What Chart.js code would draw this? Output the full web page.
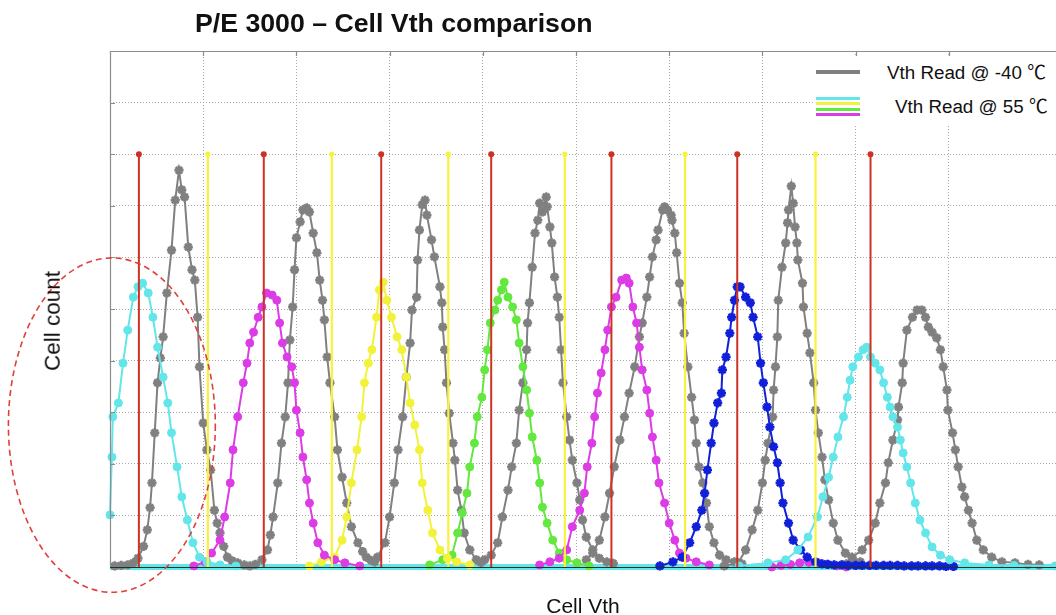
<!DOCTYPE html>
<html>
<head>
<meta charset="utf-8">
<script src="https://cdn.jsdelivr.net/npm/chart.js@4.4.1/dist/chart.umd.min.js"></script>
<style>
  html,body{margin:0;padding:0;background:#fff;overflow:hidden;}
  #wrap{position:relative;width:1056px;height:615px;}
  canvas{position:absolute;left:0;top:0;}
  .t{position:absolute;font-family:"Liberation Sans",Arial,"Noto Sans CJK SC",sans-serif;color:#111;white-space:nowrap;line-height:1;}
  #title{left:195px;top:10px;font-size:26.7px;font-weight:bold;}
  #xlab{left:583px;top:595px;font-size:21px;transform:translateX(-50%);}
  #ylab{left:53px;top:321px;font-size:22.5px;transform:translate(-50%,-50%) rotate(-90deg);}
  #legend{position:absolute;left:815px;top:56px;width:241px;height:70px;background:#fff;}
  .sw{position:absolute;left:1px;width:44px;}
  .lt{font-size:18.8px;}
</style>
</head>
<body>
<div id="wrap">
  <canvas id="c" width="1056" height="615"></canvas>
  <div class="t" id="title">P/E 3000 – Cell Vth comparison</div>
  <div class="t" id="ylab">Cell count</div>
  <div class="t" id="xlab">Cell Vth</div>
  <div id="legend">
    <div class="sw" style="top:14px;height:4px;background:#808080"></div>
    <div class="t lt" style="left:72px;top:8px">Vth Read @ -40 ℃</div>
    <div class="sw" style="top:41px;height:3px;background:#62E6EA"></div>
    <div class="sw" style="top:46px;height:3px;background:#F2F23A"></div>
    <div class="sw" style="top:51.5px;height:3px;background:#62E83E"></div>
    <div class="sw" style="top:57px;height:3px;background:#DC3CE6"></div>
    <div class="t lt" style="left:80px;top:42px">Vth Read @ 55 ℃</div>
  </div>
</div>
<script>
// ---- Data (x = Cell Vth, y = Cell count, arbitrary units) ----
const xMax = 10.15;
const yMax = 10;
const readTop = 8;
const redReads = [0.31, 1.65, 2.91, 4.09, 5.38, 6.73, 8.16];
const yellowReads = [1.05, 2.38, 3.63, 4.88, 6.17, 7.57];

// Vth Read @ -40 C (gray)
const gray1 = [[0.05,0.02],[0.12,0.03],[0.19,0.04],[0.25,0.08],[0.30,0.17],[0.36,0.40],[0.40,0.72],[0.43,1.15],[0.45,1.63],[0.48,2.60],[0.51,3.57],[0.54,4.05],[0.57,4.46],[0.61,5.31],[0.66,6.14],[0.70,7.11],[0.74,7.69],[0.77,7.31],[0.80,7.17],[0.84,6.20],[0.88,5.76],[0.91,5.56],[0.94,4.84],[0.96,3.88],[1.00,2.79],[1.04,2.27],[1.08,1.88],[1.12,1.10],[1.15,0.85],[1.18,0.66],[1.22,0.40],[1.26,0.19],[1.31,0.12],[1.37,0.08],[1.44,0.04],[1.50,0.02]];
const gray2 = [[1.56,0.05],[1.63,0.14],[1.69,0.33],[1.72,0.62],[1.75,0.97],[1.80,1.63],[1.84,2.40],[1.88,2.91],[1.91,3.57],[1.93,4.40],[1.96,5.04],[1.98,5.76],[2.00,6.38],[2.04,6.69],[2.07,6.92],[2.11,6.96],[2.14,6.88],[2.18,6.47],[2.22,6.09],[2.25,5.56],[2.28,5.17],[2.30,4.79],[2.33,4.07],[2.36,3.57],[2.41,2.91],[2.44,2.27],[2.49,1.74],[2.54,1.24],[2.59,0.78],[2.66,0.47],[2.71,0.30],[2.75,0.19],[2.80,0.13],[2.84,0.10]];
const gray3 = [[2.87,0.19],[2.95,0.47],[3.00,0.97],[3.05,1.63],[3.09,2.27],[3.14,2.91],[3.18,3.68],[3.22,4.34],[3.24,4.98],[3.29,5.23],[3.30,5.95],[3.32,6.53],[3.35,7.02],[3.38,7.11],[3.40,6.82],[3.45,6.34],[3.48,6.01],[3.54,5.43],[3.56,5.12],[3.57,4.65],[3.59,4.21],[3.61,3.57],[3.64,2.98],[3.68,2.40],[3.70,2.07],[3.73,1.49],[3.77,1.10],[3.80,0.66],[3.86,0.33],[3.93,0.14],[3.98,0.09]];
const gray4 = [[4.02,0.14],[4.09,0.23],[4.16,0.47],[4.21,0.97],[4.27,1.49],[4.31,1.94],[4.36,2.40],[4.39,3.04],[4.43,3.57],[4.47,4.21],[4.48,4.73],[4.50,5.12],[4.53,5.81],[4.56,6.47],[4.59,6.72],[4.61,7.05],[4.64,6.88],[4.68,7.17],[4.69,6.98],[4.72,6.59],[4.74,6.28],[4.77,5.62],[4.80,5.23],[4.82,4.84],[4.84,4.21],[4.86,3.57],[4.90,2.91],[4.93,2.46],[4.96,2.07],[5.01,1.63],[5.04,1.30],[5.07,0.91],[5.11,0.58],[5.18,0.33],[5.25,0.17],[5.33,0.10],[5.40,0.07]];
const gray5 = [[5.11,0.14],[5.18,0.27],[5.25,0.52],[5.31,0.97],[5.36,1.43],[5.41,1.94],[5.47,2.46],[5.52,2.91],[5.57,3.37],[5.63,3.88],[5.68,4.46],[5.71,4.73],[5.76,5.23],[5.79,5.62],[5.82,6.01],[5.86,6.34],[5.88,6.53],[5.93,6.92],[5.95,6.98],[5.98,6.92],[6.02,6.82],[6.03,6.72],[6.06,6.47],[6.08,6.09],[6.11,5.50],[6.14,5.12],[6.16,4.53],[6.20,3.88],[6.24,3.29],[6.27,2.85],[6.29,2.40],[6.32,1.94],[6.36,1.63],[6.40,1.24],[6.43,0.78],[6.48,0.47],[6.54,0.23],[6.61,0.14],[6.70,0.10],[6.78,0.06]];
const gray6 = [[6.59,0.02],[6.74,0.08],[6.82,0.33],[6.89,0.72],[6.95,1.10],[7.00,1.63],[7.03,2.07],[7.06,2.40],[7.11,2.91],[7.12,3.43],[7.14,3.88],[7.16,4.46],[7.17,5.17],[7.21,5.81],[7.25,6.28],[7.27,6.67],[7.28,6.92],[7.31,7.38],[7.33,7.05],[7.35,6.59],[7.37,6.28],[7.38,5.95],[7.43,5.50],[7.44,5.04],[7.48,4.53],[7.51,4.15],[7.55,3.57],[7.57,3.04],[7.60,2.60],[7.64,2.13],[7.67,1.69],[7.71,1.30],[7.76,0.85],[7.81,0.52],[7.89,0.27],[7.97,0.14],[8.05,0.10]];
const gray7 = [[7.90,0.06],[7.96,0.19],[8.07,0.33],[8.14,0.52],[8.21,0.85],[8.26,1.24],[8.32,1.63],[8.35,2.02],[8.40,2.46],[8.45,2.85],[8.46,3.10],[8.50,3.57],[8.51,3.95],[8.55,4.59],[8.61,4.84],[8.66,4.98],[8.71,4.98],[8.75,4.84],[8.78,4.65],[8.82,4.55],[8.87,4.44],[8.91,4.21],[8.94,3.88],[8.98,3.43],[8.99,3.04],[9.04,2.60],[9.07,2.27],[9.10,1.94],[9.14,1.55],[9.17,1.36],[9.21,1.10],[9.25,0.85],[9.30,0.52],[9.37,0.33],[9.46,0.19],[9.57,0.10],[9.71,0.08],[9.85,0.05],[9.97,0.04]];

// Vth Read @ 55 C (coloured)
const cyan1 = [[0.00,1.01],[0.02,2.13],[0.03,2.91],[0.09,3.18],[0.14,3.95],[0.19,4.59],[0.25,5.23],[0.30,5.43],[0.35,5.50],[0.41,5.31],[0.46,4.84],[0.51,4.26],[0.57,3.68],[0.62,3.18],[0.66,2.60],[0.72,1.94],[0.77,1.36],[0.83,0.91],[0.89,0.47],[0.96,0.19],[1.04,0.10],[1.18,0.04],[1.35,0.02]];
const magenta1 = [[0.90,0.02],[1.02,0.10],[1.09,0.27],[1.18,0.52],[1.23,0.97],[1.29,1.63],[1.32,2.27],[1.37,2.91],[1.43,3.57],[1.47,3.95],[1.50,4.34],[1.54,4.55],[1.59,4.84],[1.63,5.04],[1.68,5.31],[1.74,5.27],[1.79,5.17],[1.82,4.73],[1.85,4.34],[1.90,4.07],[1.95,3.88],[1.98,3.57],[2.00,3.04],[2.04,2.60],[2.07,2.13],[2.11,1.69],[2.14,1.24],[2.18,0.85],[2.23,0.47],[2.30,0.23],[2.41,0.14],[2.52,0.08],[2.68,0.02]];
const yellow1 = [[2.14,0.02],[2.27,0.10],[2.41,0.19],[2.49,0.52],[2.54,0.97],[2.59,1.63],[2.65,2.27],[2.70,2.91],[2.73,3.57],[2.77,3.95],[2.81,4.21],[2.86,4.84],[2.89,5.37],[2.93,5.52],[2.97,5.17],[3.02,4.84],[3.08,4.46],[3.13,4.21],[3.18,3.68],[3.22,3.18],[3.27,2.75],[3.32,2.27],[3.35,1.63],[3.41,1.10],[3.46,0.66],[3.54,0.33],[3.62,0.17],[3.72,0.10],[3.86,0.04]];
const green1 = [[3.43,0.04],[3.57,0.14],[3.67,0.23],[3.73,0.66],[3.78,1.05],[3.83,1.43],[3.86,1.94],[3.91,2.40],[3.94,2.91],[3.99,3.29],[4.02,3.82],[4.05,4.21],[4.08,4.73],[4.13,4.98],[4.16,5.17],[4.20,5.37],[4.23,5.52],[4.27,5.23],[4.32,5.04],[4.36,4.79],[4.39,4.34],[4.43,3.88],[4.47,3.43],[4.50,2.98],[4.53,2.52],[4.58,2.07],[4.61,1.63],[4.64,1.16],[4.69,0.85],[4.75,0.52],[4.82,0.27],[4.90,0.14],[5.01,0.08],[5.14,0.02]];
const magenta2 = [[4.61,0.04],[4.72,0.10],[4.82,0.17],[4.90,0.33],[4.96,0.78],[5.04,1.10],[5.09,1.43],[5.12,1.94],[5.17,2.40],[5.20,2.91],[5.23,3.37],[5.27,3.76],[5.31,4.21],[5.34,4.59],[5.38,5.04],[5.43,5.23],[5.49,5.56],[5.54,5.60],[5.57,5.50],[5.61,5.04],[5.65,4.73],[5.68,4.26],[5.71,3.82],[5.76,3.43],[5.79,2.98],[5.82,2.52],[5.86,2.07],[5.89,1.63],[5.95,1.24],[6.00,0.85],[6.06,0.52],[6.11,0.27],[6.18,0.17],[6.29,0.10],[6.43,0.04]];
const magentaTail = [[7.10,0.00],[7.20,0.03],[7.30,0.05],[7.40,0.08],[7.50,0.09],[7.60,0.08],[7.70,0.05],[7.80,0.02],[7.90,0.00]];
const blue1 = [[5.90,0.02],[6.04,0.10],[6.14,0.19],[6.22,0.47],[6.29,0.78],[6.35,1.10],[6.38,1.43],[6.41,1.88],[6.45,2.40],[6.48,2.79],[6.52,3.18],[6.56,3.37],[6.57,3.82],[6.61,4.07],[6.65,4.53],[6.67,4.84],[6.70,5.17],[6.73,5.43],[6.76,5.43],[6.82,5.23],[6.87,5.12],[6.90,4.84],[6.95,4.46],[6.98,3.95],[7.01,3.57],[7.05,3.10],[7.08,2.71],[7.12,2.33],[7.16,2.02],[7.19,1.63],[7.22,1.24],[7.28,0.85],[7.33,0.52],[7.41,0.33],[7.48,0.19],[7.57,0.10],[7.64,0.06],[7.70,0.05],[7.77,0.04],[7.85,0.04],[7.92,0.03],[8.00,0.03],[8.07,0.03],[8.15,0.03],[8.22,0.03],[8.30,0.03],[8.37,0.03],[8.45,0.03],[8.52,0.02],[8.60,0.02],[8.67,0.02],[8.75,0.02],[8.82,0.02],[8.90,0.02],[8.97,0.01],[9.05,0.01]];
const cyan2 = [[6.75,0.02],[7.06,0.08],[7.25,0.14],[7.38,0.33],[7.49,0.58],[7.59,0.97],[7.65,1.36],[7.71,1.74],[7.76,2.13],[7.81,2.52],[7.87,2.91],[7.91,3.29],[7.94,3.62],[7.97,3.88],[8.03,4.07],[8.08,4.21],[8.12,4.26],[8.16,4.07],[8.21,3.95],[8.26,3.82],[8.30,3.57],[8.34,3.29],[8.37,3.10],[8.40,2.91],[8.45,2.71],[8.48,2.46],[8.51,2.21],[8.55,1.94],[8.59,1.63],[8.64,1.24],[8.69,0.91],[8.75,0.66],[8.82,0.39],[8.91,0.23],[9.01,0.14],[9.17,0.08],[9.43,0.04],[9.70,0.03],[10.14,0.02]];
const floorLine = [[0, 0], [xMax, 0]];

// ---- Colours ----
const C = {
  gray: '#808080', cyan: '#62E6EA', magenta: '#DC3CE6', yellow: '#F2F23A',
  green: '#62E83E', blue: '#1020D8', red: '#CC3325', yline: '#F8F23C'
};

const pts = a => a.map(p => ({x: p[0], y: p[1]}));

function curve(arr, color, style, order) {
  const star = style === 'star';
  return {
    data: pts(arr), showLine: true, borderColor: color, backgroundColor: color,
    borderWidth: 2, pointStyle: star ? 'star' : 'circle',
    pointRadius: star ? 4.6 : 4, pointBorderWidth: star ? 2.7 : 1,
    pointBorderColor: color, pointBackgroundColor: color,
    order: order, clip: 6, tension: 0
  };
}

const datasets = [];
redReads.forEach(v => datasets.push({
  data: pts([[v, 0], [v, readTop]]), showLine: true, borderColor: C.red, borderWidth: 2,
  pointRadius: [0, 2], pointBackgroundColor: C.red, pointBorderColor: C.red, order: 0, clip: 6
}));
yellowReads.forEach(v => datasets.push({
  data: pts([[v, 0], [v, readTop]]), showLine: true, borderColor: C.yline, borderWidth: 2.2,
  pointRadius: [0, 1.5], pointBackgroundColor: C.yline, pointBorderColor: C.yline, order: 0, clip: 6
}));
[cyan1, cyan2].forEach(a => datasets.push(curve(a, C.cyan, 'circle', 1)));
datasets.push(curve(blue1, C.blue, 'star', 1));
datasets.push(curve(magenta1, C.magenta, 'circle', 1));
datasets.push(curve(magenta2, C.magenta, 'circle', 1));
datasets.push(curve(yellow1, C.yellow, 'circle', 1));
datasets.push(curve(green1, C.green, 'circle', 1));
datasets.push(curve(magentaTail, C.magenta, 'circle', 3));
[gray1, gray2, gray3, gray4, gray5, gray6, gray7].forEach(a => datasets.push(curve(a, C.gray, 'star', 2)));
datasets.push({
  data: pts(floorLine), showLine: true, borderColor: C.cyan, borderWidth: 6,
  pointRadius: 0, order: 4, clip: 8
});

const framePlugin = {
  id: 'frame',
  afterDatasetsDraw(chart) {
    const {ctx, chartArea: a, scales: {x, y}} = chart;
    ctx.save();
    ctx.strokeStyle = '#8c8c8c';
    ctx.lineWidth = 1.2;
    ctx.beginPath();
    ctx.moveTo(a.left + 0.5, a.bottom); ctx.lineTo(a.left + 0.5, a.top);
    ctx.moveTo(a.left, a.top + 0.5); ctx.lineTo(a.right, a.top + 0.5);
    y.ticks.forEach(t => {
      const py = Math.round(y.getPixelForValue(t.value)) + 0.5;
      ctx.moveTo(a.left, py); ctx.lineTo(a.left + 5, py);
    });
    x.ticks.forEach(t => {
      const px = Math.round(x.getPixelForValue(t.value)) + 0.5;
      ctx.moveTo(px, a.top); ctx.lineTo(px, a.top + 5);
    });
    ctx.stroke();
    // dark baseline at zero count
    ctx.strokeStyle = '#1c3328';
    ctx.lineWidth = 1;
    ctx.beginPath();
    const p0 = Math.round(y.getPixelForValue(0)) + 0.5;
    ctx.moveTo(a.left, p0); ctx.lineTo(a.right, p0);
    ctx.stroke();
    ctx.restore();
  },
  afterDraw(chart) {
    const {ctx, scales: {x, y}} = chart;
    // dashed ellipse highlighting the truncated left distribution
    const cx = x.getPixelForValue(0.02), cy = y.getPixelForValue(2.75);
    const rx = x.getPixelForValue(1.13) - x.getPixelForValue(0.02);
    const ry = y.getPixelForValue(0) - y.getPixelForValue(3.24);
    ctx.save();
    ctx.strokeStyle = '#E0403A';
    ctx.lineWidth = 1.6;
    ctx.setLineDash([6, 4]);
    ctx.beginPath();
    ctx.ellipse(cx, cy, rx, ry, 0, 0, Math.PI * 2);
    ctx.stroke();
    ctx.restore();
  }
};

new Chart(document.getElementById('c'), {
  type: 'scatter',
  data: {datasets},
  options: {
    responsive: false, animation: false, devicePixelRatio: 1,
    layout: {autoPadding: false, padding: {left: 110, top: 51, right: 0, bottom: 48}},
    plugins: {legend: {display: false}, tooltip: {enabled: false}, title: {display: false}},
    scales: {
      x: {
        type: 'linear', min: 0, max: xMax,
        ticks: {display: false, stepSize: 1},
        afterBuildTicks: s => { s.ticks = s.ticks.filter(t => Number.isInteger(t.value)); },
        grid: {color: '#a8a8a8', drawTicks: false, lineWidth: 1},
        border: {display: false, dash: [1, 2]}
      },
      y: {
        type: 'linear', min: 0, max: yMax,
        ticks: {display: false, stepSize: 1},
        grid: {color: '#a8a8a8', drawTicks: false, lineWidth: 1},
        border: {display: false, dash: [1, 2]}
      }
    }
  },
  plugins: [framePlugin]
});
</script>
</body>
</html>
